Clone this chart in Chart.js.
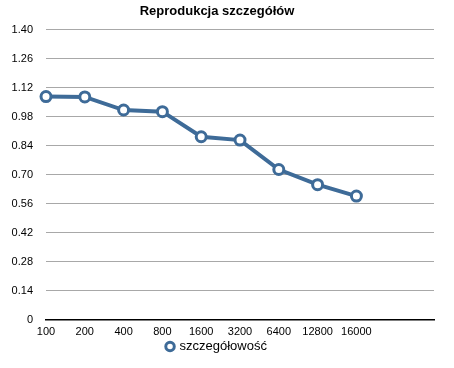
<!DOCTYPE html>
<html>
<head>
<meta charset="utf-8">
<script src="https://cdn.jsdelivr.net/npm/chart.js@4"></script>
<style>
  html, body { margin: 0; padding: 0; background: #fff; }
  #wrap { width: 454px; height: 368px; }
</style>
</head>
<body>
<div id="wrap"><canvas id="myChart"></canvas></div>
<script>
const categories = ['100', '200', '400', '800', '1600', '3200', '6400', '12800', '16000', '', ''];
const values = [1.077, 1.075, 1.012, 1.004, 0.883, 0.867, 0.725, 0.652, 0.597];
const yTicks = [0, 0.14, 0.28, 0.42, 0.56, 0.70, 0.84, 0.98, 1.12, 1.26, 1.40];
const seriesName = 'szczegółowość';

const blue = '#3e6b98';
const ctx = document.getElementById('myChart').getContext('2d');
const myChart = new Chart(ctx, {
    type: 'line',
    data: {
        labels: categories,
        datasets: [{
            label: seriesName,
            data: values,
            borderColor: blue,
            backgroundColor: '#ffffff',
            borderWidth: 4,
            tension: 0,
            pointRadius: 5,
            pointBorderWidth: 3,
            pointBackgroundColor: '#ffffff',
            pointBorderColor: blue
        }]
    },
    options: {
        responsive: true,
        maintainAspectRatio: false,
        animation: false,
        layout: { padding: { top: 2, right: 20, bottom: 5, left: 0 } },
        font: { family: "'Liberation Sans', Arial, sans-serif" },
        plugins: {
            title: {
                display: true,
                text: 'Reprodukcja szczegółów',
                color: '#000',
                font: { family: "'Liberation Sans', Arial, sans-serif", size: 13, weight: 'bold' },
                padding: { top: 2, bottom: 10 }
            },
            legend: {
                position: 'bottom',
                labels: {
                    usePointStyle: true,
                    pointStyle: 'circle',
                    boxWidth: 6,
                    boxHeight: 6,
                    color: '#000',
                    padding: 2,
                    font: { family: "'Liberation Sans', Arial, sans-serif", size: 13 }
                }
            },
            tooltip: { enabled: false }
        },
        scales: {
            x: {
                offset: false,
                afterFit: (scale) => { scale.height = scale.height - 7; },
                grid: { display: false, drawTicks: false },
                border: { display: true, color: '#000', width: 1.5 },
                ticks: {
                    autoSkip: false,
                    maxRotation: 0,
                    color: '#000',
                    padding: 6,
                    font: { family: "'Liberation Sans', Arial, sans-serif", size: 11 }
                }
            },
            y: {
                min: 0,
                max: 1.40,
                afterBuildTicks: (scale) => { scale.ticks = yTicks.map(v => ({ value: v })); },
                afterFit: (scale) => { scale.width = 46; },
                grid: {
                    color: (c) => c.tick && c.tick.value === 0 ? 'rgba(0,0,0,0)' : '#a8a8a8',
                    drawTicks: false,
                    lineWidth: 1
                },
                border: { display: false },
                ticks: {
                    color: '#000',
                    padding: 13,
                    font: { family: "'Liberation Sans', Arial, sans-serif", size: 11 },
                    callback: (v) => v === 0 ? '0' : v.toFixed(2)
                }
            }
        }
    }
});
</script>
</body>
</html>
